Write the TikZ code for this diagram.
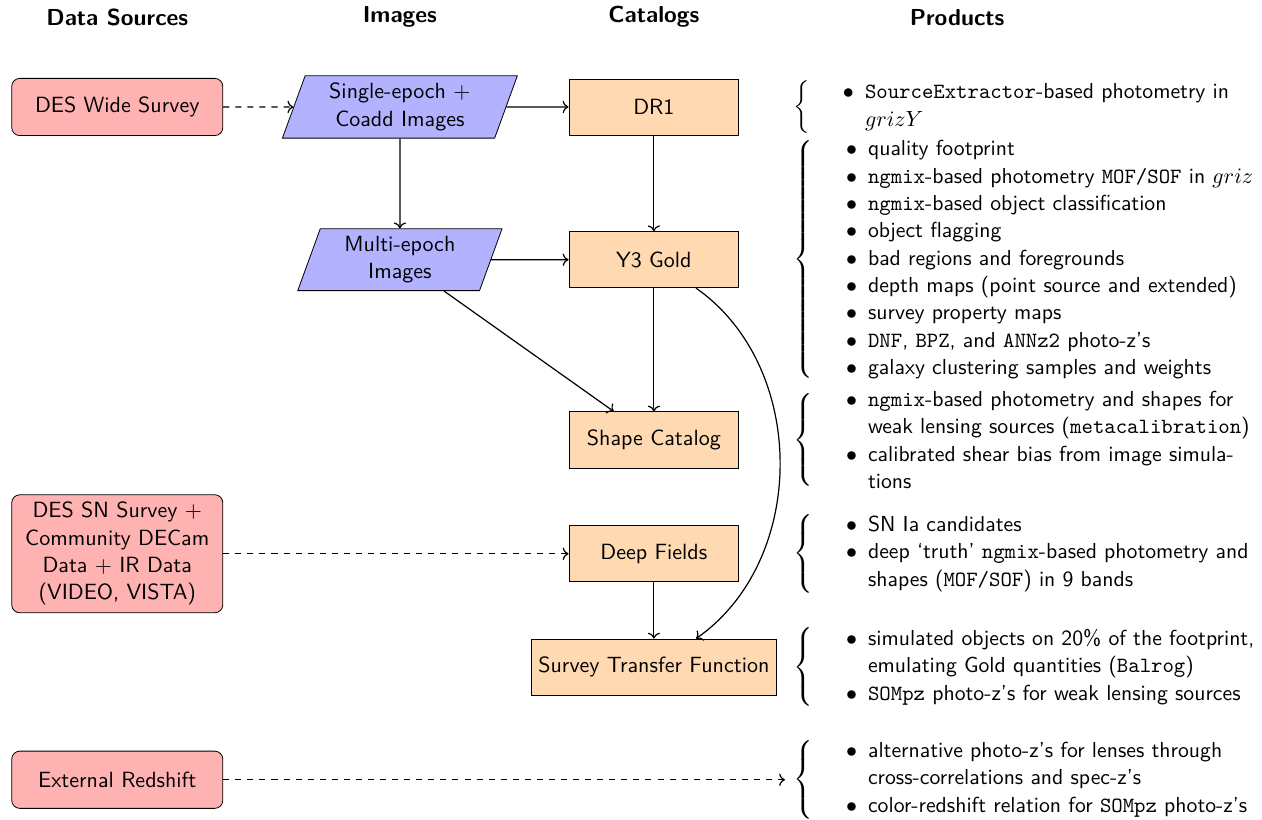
\documentclass[tikz,border=0pt,11pt]{standalone}
\usepackage{fontspec}
\usepackage{amsmath}
\usepackage{enumitem}
\usepackage{ragged2e}
\usepackage{tikz}
\usetikzlibrary{arrows.meta, positioning, shapes.geometric, calc}
\renewcommand{\familydefault}{\sfdefault}
\setlist[itemize]{nosep, label=$\bullet$}
\newcommand{\prodlist}[1]{$\left\{\begin{minipage}{222.5pt}\fontsize{10.8}{13.6}\selectfont\RaggedRight\begin{itemize}#1\end{itemize}\end{minipage}\right.$}

\begin{document}
\begin{tikzpicture}[
    header/.style={font=\fontsize{11.5}{14}\selectfont\bfseries},
    source/.style={draw, rounded corners, fill=red!30, minimum width=3.69cm, minimum height=1cm, align=center},
    imagebox/.style={draw, trapezium, trapezium left angle=70, trapezium right angle=110, trapezium stretches body, fill=blue!30, align=center, inner xsep=12pt},
    catalog/.style={draw, fill=orange!30, minimum width=2.97cm, minimum height=0.98cm, align=center},
    product/.style={anchor=west, inner sep=4pt},
    link/.style={->, semithick}
  ]
    \useasboundingbox (0,0) rectangle (22.06,-14.32);

    % Column titles
    \node[header] (hsrc) at (2.05,-0.30) {Data Sources};
    \node[header] (himg) at (6.99,-0.30) {Images};
    \node[header] (hcat) at (11.43,-0.30) {Catalogs};
    \node[header] (hprod) at (16.73,-0.30) {Products};

    % Data sources
    \node[source] (wide) at (2.05,-1.87) {DES Wide Survey};
    \node[source] (sn) at (2.05,-9.68) {DES SN Survey +\\Community DECam\\Data + IR Data\\(VIDEO, VISTA)};
    \node[source] (ext) at (2.05,-13.63) {External Redshift};

    % Images
    \node[imagebox] (single) at (6.99,-1.87) {Single-epoch +\\Coadd Images};
    \node[imagebox] (multi) at (6.99,-4.54) {Multi-epoch\\Images};

    % Catalogs
    \node[catalog] (dr1) at (11.43,-1.87) {DR1};
    \node[catalog] (gold) at (11.43,-4.54) {Y3 Gold};
    \node[catalog] (shape) at (11.43,-7.69) {Shape Catalog};
    \node[catalog] (deep) at (11.43,-9.68) {Deep Fields};
    \node[catalog] (stf) at (11.43,-11.66) {Survey Transfer Function};

    % Products
    \node[product, right=0.80cm of dr1] (dr1list) {\prodlist{
      \item \texttt{SourceExtractor}-based photometry in $grizY$}};
    \node[product] (goldlist) at (dr1list.west |- gold) {\prodlist{
      \item quality footprint
      \item \texttt{ngmix}-based photometry \texttt{MOF/SOF} in $griz$
      \item \texttt{ngmix}-based object classification
      \item object flagging
      \item bad regions and foregrounds
      \item depth maps (point source and extended)
      \item survey property maps
      \item \texttt{DNF}, \texttt{BPZ}, and \texttt{ANNz2} photo-z's
      \item galaxy clustering samples and weights}};
    \node[product] (shapelist) at (dr1list.west |- shape) {\prodlist{
      \item \texttt{ngmix}-based photometry and shapes for weak lensing sources (\texttt{metacalibration})
      \item calibrated shear bias from image simulations}};
    \node[product] (deeplist) at (dr1list.west |- deep) {\prodlist{
      \item SN Ia candidates
      \item deep `truth' \texttt{ngmix}-based photometry and shapes (\texttt{MOF/SOF}) in 9 bands}};
    \node[product] (stflist) at (dr1list.west |- stf) {\prodlist{
      \item simulated objects on 20\% of the footprint, emulating Gold quantities (\texttt{Balrog})
      \item \texttt{SOMpz} photo-z's for weak lensing sources}};
    \node[product] (extlist) at (dr1list.west |- ext) {\prodlist{
      \item alternative photo-z's for lenses through cross-correlations and spec-z's
      \item color-redshift relation for \texttt{SOMpz} photo-z's}};

    % Connections
    \draw[link, dashed] (wide) -- (single);
    \draw[link] (single) -- (dr1);
    \draw[link] (single) -- (multi);
    \draw[link] (dr1) -- (gold);
    \draw[link] (multi) -- (gold);
    \draw[link] (multi) -- (shape);
    \draw[link] (gold) -- (shape);
    \draw[link] (gold.-34) to[bend left=55] (stf.34);
    \draw[link, dashed] (sn) -- (deep);
    \draw[link] (deep) -- (stf);
    \draw[link, dashed] (ext) -- (extlist);
\end{tikzpicture}
\end{document}
